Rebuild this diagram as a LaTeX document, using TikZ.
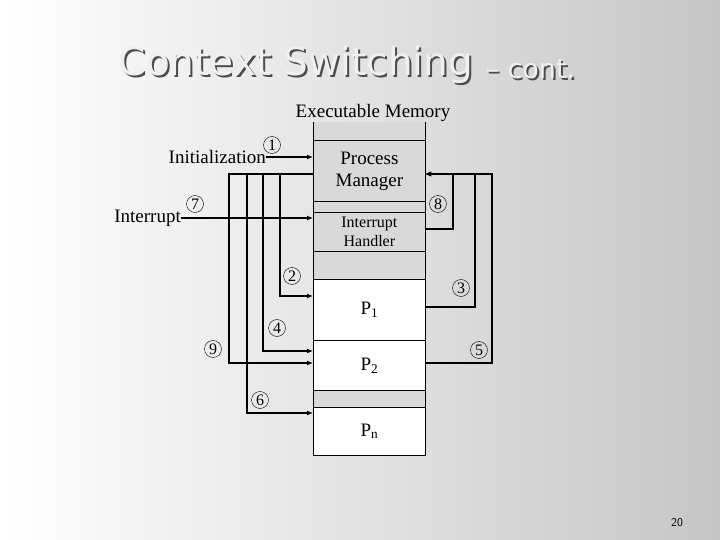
\documentclass[tikz,border=0pt]{standalone}
\usepackage{fontspec}
\setmainfont{Liberation Serif}
\newfontfamily\titlefont{DejaVu Sans}
\usetikzlibrary{arrows.meta}
\begin{document}
\begin{tikzpicture}[x=1pt, y=-1pt]
\tikzstyle{blk} = [draw=black, thick, minimum width=112pt, anchor=north west, inner sep=0pt, align=center]
\tikzstyle{num} = [circle, draw=black, inner sep=0pt, minimum size=17pt, font=\fontsize{16}{16}\selectfont]
\tikzstyle{e} = [draw=black, line width=1.6pt, -{Latex[length=6pt,width=5pt]}]
\tikzstyle{lbl} = [font=\fontsize{19}{22}\selectfont]

\shade[left color=white, right color=gray!45] (0,0) rectangle (720,540);
\useasboundingbox (0,0) rectangle (720,540);

\node[font=\titlefont\fontsize{39}{39}\selectfont, text=gray!60!black] at (298,67) {Context Switching};
\node[font=\titlefont\fontsize{39}{39}\selectfont, text=gray!12] (title) at (296,65) {Context Switching};
\node[font=\titlefont\fontsize{27}{27}\selectfont, text=gray!60!black, anchor=west] at (484,71) {– cont.};
\node[font=\titlefont\fontsize{27}{27}\selectfont, text=gray!12, anchor=west] (cont) at (482,69) {– cont.};

\node[lbl] (exe) at (373,113) {Executable Memory};

% memory column
\fill[gray!30] (313,122) rectangle (425,455);
\draw[thick] (313,122) -- (313,455) (425,122) -- (425,455);
\node[blk, fill=gray!30, minimum height=61pt, lbl] (pm) at (313,140) {Process\\Manager};
\node[blk, fill=gray!30, minimum height=39pt, font=\fontsize{16}{19}\selectfont] (ih) at (313,212) {Interrupt\\Handler};
\node[blk, fill=white, minimum height=61pt, lbl] (p1) at (313,279) {P\textsubscript{1}};
\node[blk, fill=white, minimum height=50pt, lbl] (p2) at (313,340) {P\textsubscript{2}};
\node[blk, fill=white, minimum height=48pt, lbl] (pn) at (313,407) {P\textsubscript{n}};
\draw[thick] (313,455) -- (425,455);

\node[lbl, anchor=east, inner sep=0pt] (init) at (266,157) {Initialization};
\node[lbl, anchor=east, inner sep=0pt] (intr) at (181,218) {Interrupt};

\node[num] (n1) at (272,145) {1};
\node[num] (n7) at (195,204) {7};
\node[num] (n8) at (438,204) {8};
\node[num] (n2) at (292,276) {2};
\node[num] (n3) at (461,288) {3};
\node[num] (n4) at (277,328) {4};
\node[num] (n9) at (213,349) {9};
\node[num] (n5) at (479,350) {5};
\node[num] (n6) at (260,400) {6};

\draw[e] (init.east) -- (pm.west |- init.east);
\draw[e] (intr.east) -- (pm.west |- intr.east);
\draw[e] (313,174) -| (280,296) -- (313,296);
\draw[e] (313,174) -| (263,351) -- (313,351);
\draw[e] (313,174) -| (229,363) -- (313,363);
\draw[e] (313,174) -| (247,413) -- (313,413);
\draw[e] (425,229) -| (453,174) -- (425,174);
\draw[e] (425,307) -| (475,174) -- (425,174);
\draw[e] (425,363) -| (492,174) -- (425,174);

\node[font=\sffamily\fontsize{12}{12}\selectfont] (page) at (677,523) {20};
\end{tikzpicture}
\end{document}
